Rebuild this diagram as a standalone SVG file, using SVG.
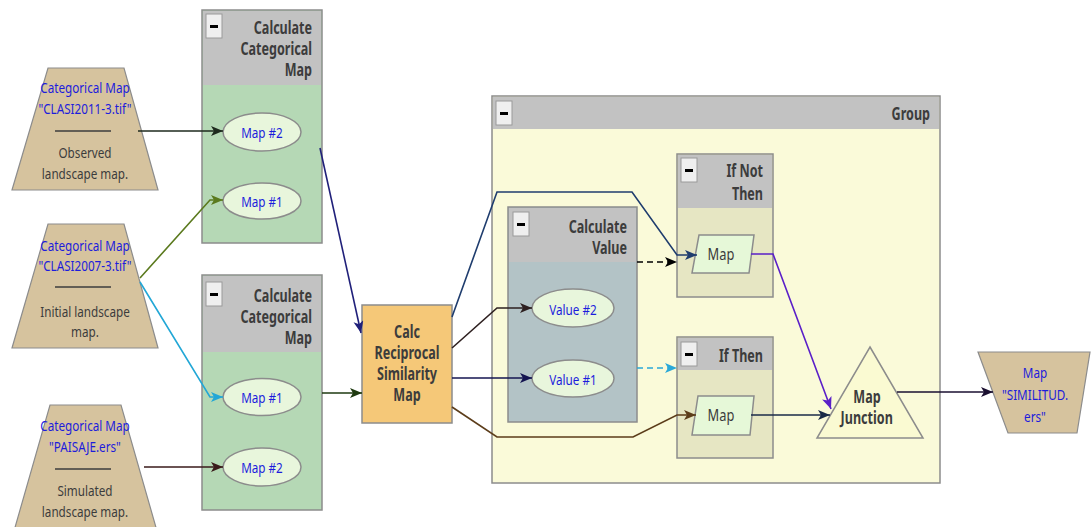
<svg xmlns="http://www.w3.org/2000/svg" width="1091" height="527" viewBox="0 0 1091 527">
<style>
.t{font-family:"Noto Sans","DejaVu Sans",sans-serif;transform-box:fill-box;transform:scaleX(0.78)}
.n{font-size:15px}
.b{font-size:17px;font-weight:bold;fill:#3c3c3c;transform:scaleX(0.74)}
.c{text-anchor:middle;transform-origin:center}
.r{text-anchor:end;transform-origin:right center}
.blue{fill:#1c1cdc}
.gray{fill:#3c3c3c}
.io{fill:#d6c39e;stroke:#8c8c8c;stroke-width:1.2}
.box{stroke:#8c8c8c;stroke-width:1.5}
.hdr{fill:#c2c2c2}
.btn{fill:#efefef;stroke:#9a9a9a;stroke-width:1}
.bar{fill:#000}
.ell{fill:#e8f6dc;stroke:#8c8c8c;stroke-width:1.5}
.par{fill:#e6f8d8;stroke:#8c8c8c;stroke-width:1.5}
.sep{stroke:#3c3c3c;stroke-width:1.5}
.cn{fill:none;stroke-width:1.6}
</style>
<defs>
<marker id="a1" markerUnits="userSpaceOnUse" markerWidth="13" markerHeight="11" refX="12" refY="5" orient="auto"><path d="M0,0 L12,5 L0,10 L3,5z" fill="#1e2a1e"/></marker>
<marker id="a2" markerUnits="userSpaceOnUse" markerWidth="13" markerHeight="11" refX="12" refY="5" orient="auto"><path d="M0,0 L12,5 L0,10 L3,5z" fill="#5b7a1e"/></marker>
<marker id="a3" markerUnits="userSpaceOnUse" markerWidth="13" markerHeight="11" refX="12" refY="5" orient="auto"><path d="M0,0 L12,5 L0,10 L3,5z" fill="#22a7d6"/></marker>
<marker id="a4" markerUnits="userSpaceOnUse" markerWidth="13" markerHeight="11" refX="12" refY="5" orient="auto"><path d="M0,0 L12,5 L0,10 L3,5z" fill="#3a1a1a"/></marker>
<marker id="a5" markerUnits="userSpaceOnUse" markerWidth="13" markerHeight="11" refX="12" refY="5" orient="auto"><path d="M0,0 L12,5 L0,10 L3,5z" fill="#20207a"/></marker>
<marker id="a6" markerUnits="userSpaceOnUse" markerWidth="13" markerHeight="11" refX="12" refY="5" orient="auto"><path d="M0,0 L12,5 L0,10 L3,5z" fill="#1e3a10"/></marker>
<marker id="a7" markerUnits="userSpaceOnUse" markerWidth="13" markerHeight="11" refX="12" refY="5" orient="auto"><path d="M0,0 L12,5 L0,10 L3,5z" fill="#1f3d6e"/></marker>
<marker id="a8" markerUnits="userSpaceOnUse" markerWidth="13" markerHeight="11" refX="12" refY="5" orient="auto"><path d="M0,0 L12,5 L0,10 L3,5z" fill="#2e2020"/></marker>
<marker id="a9" markerUnits="userSpaceOnUse" markerWidth="13" markerHeight="11" refX="12" refY="5" orient="auto"><path d="M0,0 L12,5 L0,10 L3,5z" fill="#141450"/></marker>
<marker id="a10" markerUnits="userSpaceOnUse" markerWidth="13" markerHeight="11" refX="12" refY="5" orient="auto"><path d="M0,0 L12,5 L0,10 L3,5z" fill="#5c3d1a"/></marker>
<marker id="a11" markerUnits="userSpaceOnUse" markerWidth="13" markerHeight="11" refX="12" refY="5" orient="auto"><path d="M0,0 L12,5 L0,10 L3,5z" fill="#000"/></marker>
<marker id="a12" markerUnits="userSpaceOnUse" markerWidth="13" markerHeight="11" refX="12" refY="5" orient="auto"><path d="M0,0 L12,5 L0,10 L3,5z" fill="#2aa8d8"/></marker>
<marker id="a13" markerUnits="userSpaceOnUse" markerWidth="13" markerHeight="11" refX="12" refY="5" orient="auto"><path d="M0,0 L12,5 L0,10 L3,5z" fill="#5a1fc8"/></marker>
<marker id="a14" markerUnits="userSpaceOnUse" markerWidth="13" markerHeight="11" refX="12" refY="5" orient="auto"><path d="M0,0 L12,5 L0,10 L3,5z" fill="#1a2a48"/></marker>
<marker id="a15" markerUnits="userSpaceOnUse" markerWidth="13" markerHeight="11" refX="12" refY="5" orient="auto"><path d="M0,0 L12,5 L0,10 L3,5z" fill="#1a0f30"/></marker>
</defs>
<rect width="1091" height="527" fill="#fff"/>

<!-- Group container -->
<g id="group">
<rect x="492" y="96" width="448" height="387" fill="#fafad9" class="box"/>
<rect x="493" y="97" width="446" height="32" class="hdr"/>
<rect x="496" y="101" width="16" height="24" class="btn"/><rect x="500" y="112" width="8" height="3" class="bar"/>
<text x="930" y="120" class="t b r">Group</text>
</g>

<!-- inputs -->
<g id="in1">
<polygon points="48,68 124,68 158,190 12,190" class="io"/>
<text x="85" y="93" class="t n c blue">Categorical Map</text>
<text x="85" y="114" class="t n c blue">"CLASI2011-3.tif"</text>
<line x1="55" y1="131" x2="111" y2="131" class="sep"/>
<text x="85" y="158" class="t n c gray">Observed</text>
<text x="85" y="179" class="t n c gray">landscape map.</text>
</g>
<g id="in2">
<polygon points="48,224 124,224 158,348 12,348" class="io"/>
<text x="85" y="251" class="t n c blue">Categorical Map</text>
<text x="85" y="271" class="t n c blue">"CLASI2007-3.tif"</text>
<line x1="55" y1="287" x2="111" y2="287" class="sep"/>
<text x="85" y="317" class="t n c gray">Initial landscape</text>
<text x="85" y="337" class="t n c gray">map.</text>
</g>
<g id="in3">
<polygon points="50,405 121,405 157,531 14,531" class="io"/>
<text x="85" y="431" class="t n c blue">Categorical Map</text>
<text x="85" y="452" class="t n c blue">"PAISAJE.ers"</text>
<line x1="55" y1="469" x2="111" y2="469" class="sep"/>
<text x="85" y="496" class="t n c gray">Simulated</text>
<text x="85" y="517" class="t n c gray">landscape map.</text>
</g>

<!-- Calculate Categorical Map 1 -->
<g id="calc1">
<rect x="202" y="10" width="120" height="233" fill="#b5d8b5" class="box"/>
<rect x="203" y="11" width="118" height="74" class="hdr"/>
<rect x="206" y="14" width="16" height="24" class="btn"/><rect x="210" y="25" width="8" height="3" class="bar"/>
<text x="312" y="34" class="t b r">Calculate</text>
<text x="312" y="55" class="t b r">Categorical</text>
<text x="312" y="76" class="t b r">Map</text>
<ellipse cx="262" cy="132" rx="39" ry="19" class="ell"/>
<text x="262" y="138" class="t n c blue">Map #2</text>
<ellipse cx="262" cy="201" rx="39" ry="18" class="ell"/>
<text x="262" y="207" class="t n c blue">Map #1</text>
</g>

<!-- Calculate Categorical Map 2 -->
<g id="calc2">
<rect x="202" y="275" width="120" height="235" fill="#b5d8b5" class="box"/>
<rect x="203" y="276" width="118" height="76" class="hdr"/>
<rect x="206" y="282" width="16" height="24" class="btn"/><rect x="210" y="293" width="8" height="3" class="bar"/>
<text x="312" y="302" class="t b r">Calculate</text>
<text x="312" y="323" class="t b r">Categorical</text>
<text x="312" y="344" class="t b r">Map</text>
<ellipse cx="262" cy="397" rx="39" ry="18.5" class="ell"/>
<text x="262" y="403" class="t n c blue">Map #1</text>
<ellipse cx="262" cy="467" rx="39" ry="19" class="ell"/>
<text x="262" y="473" class="t n c blue">Map #2</text>
</g>

<!-- Calc Reciprocal Similarity Map -->
<g id="recip">
<rect x="362" y="305" width="90" height="118" fill="#f5c878" class="box"/>
<text x="407" y="338" class="t b c">Calc</text>
<text x="407" y="359" class="t b c">Reciprocal</text>
<text x="407" y="380" class="t b c">Similarity</text>
<text x="407" y="401" class="t b c">Map</text>
</g>

<!-- Calculate Value -->
<g id="calcval">
<rect x="508" y="207" width="129" height="215" fill="#b3c3c6" class="box"/>
<rect x="509" y="208" width="127" height="54" class="hdr"/>
<rect x="513" y="212" width="16" height="24" class="btn"/><rect x="517" y="223" width="8" height="3" class="bar"/>
<text x="627" y="233" class="t b r">Calculate</text>
<text x="627" y="254" class="t b r">Value</text>
<ellipse cx="573" cy="308" rx="41" ry="19" class="ell"/>
<text x="573" y="315" class="t n c blue">Value #2</text>
<ellipse cx="573" cy="378.5" rx="41" ry="18.5" class="ell"/>
<text x="573" y="385" class="t n c blue">Value #1</text>
</g>

<!-- If Not Then -->
<g id="ifnot">
<rect x="677" y="154" width="96" height="143" fill="#e6e6c3" class="box"/>
<rect x="678" y="155" width="94" height="53" class="hdr"/>
<rect x="681" y="158" width="16" height="24" class="btn"/><rect x="685" y="169" width="8" height="3" class="bar"/>
<text x="763" y="177" class="t b r">If Not</text>
<text x="763" y="200" class="t b r">Then</text>
<polygon points="699,235 754,235 749,273 692,273" class="par"/>
<text x="721" y="260" class="t c gray" font-size="16.5">Map</text>
</g>

<!-- If Then -->
<g id="ifthen">
<rect x="677" y="337" width="96" height="121" fill="#e6e6c3" class="box"/>
<rect x="678" y="338" width="94" height="32" class="hdr"/>
<rect x="681" y="342" width="16" height="24" class="btn"/><rect x="685" y="353" width="8" height="3" class="bar"/>
<text x="763" y="362" class="t b r">If Then</text>
<polygon points="698,396 754,396 750,435 692,435" class="par"/>
<text x="721" y="421" class="t c gray" font-size="16.5">Map</text>
</g>

<!-- Map Junction -->
<g id="junction">
<polygon points="870,347 923,438 817,438" fill="#fafad2" stroke="#8c8c8c" stroke-width="1.5"/>
<text x="867" y="403" class="t b c">Map</text>
<text x="867" y="424" class="t b c">Junction</text>
</g>

<!-- Output -->
<g id="out">
<polygon points="978,352 1090,352 1077,433 1008,433" class="io"/>
<text x="1035" y="378" class="t n c blue">Map</text>
<text x="1035" y="400" class="t n c blue">"SIMILITUD.</text>
<text x="1035" y="422" class="t n c blue">ers"</text>
</g>

<!-- connectors -->
<g id="connectors">
<path d="M138,131 L223,131" class="cn" stroke="#1e2a1e" marker-end="url(#a1)"/>
<path d="M140,278 L210,200 L223,200" class="cn" stroke="#5b7a1e" marker-end="url(#a2)"/>
<path d="M140,282 L210,397 L223,397" class="cn" stroke="#22a7d6" marker-end="url(#a3)"/>
<path d="M144,467 L223,467" class="cn" stroke="#3a1a1a" marker-end="url(#a4)"/>
<path d="M320,148 L361,333" class="cn" stroke="#20207a" marker-end="url(#a5)"/>
<path d="M322,393 L362,393" class="cn" stroke="#1e3a10" marker-end="url(#a6)"/>
<path d="M452,317 L497,192 L632,192 L677,255 L697,255" class="cn" stroke="#1f3d6e" marker-end="url(#a7)"/>
<path d="M452,348 L497,308 L532,308" class="cn" stroke="#2e2020" marker-end="url(#a8)"/>
<path d="M452,378 L532,378" class="cn" stroke="#141450" marker-end="url(#a9)"/>
<path d="M452,407 L497,437 L633,437 L677,415 L696,415" class="cn" stroke="#5c3d1a" marker-end="url(#a10)"/>
<path d="M637,262 L677,262" class="cn" stroke="#000" stroke-dasharray="6,4" marker-end="url(#a11)"/>
<path d="M637,368 L677,368" class="cn" stroke="#2aa8d8" stroke-dasharray="6,4" marker-end="url(#a12)"/>
<path d="M751,254 L773,254 L831,409" class="cn" stroke="#5a1fc8" marker-end="url(#a13)"/>
<path d="M751,415 L830,415" class="cn" stroke="#1a2a48" marker-end="url(#a14)"/>
<path d="M897,392 L993,392" class="cn" stroke="#1a0f30" marker-end="url(#a15)"/>
</g>
</svg>
